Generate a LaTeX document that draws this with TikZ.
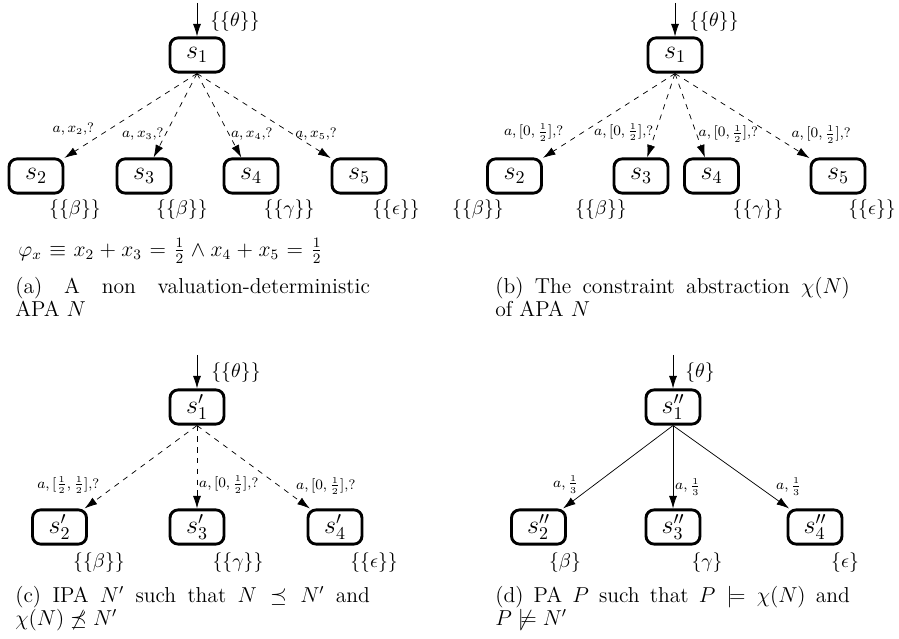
\documentclass[tikz,border=0pt]{standalone}
\usepackage{amsmath}
\usepackage{amssymb}
\usetikzlibrary{positioning, arrows.meta}

\begin{document}
\begin{tikzpicture}[
        x=0.5556pt, y=-0.5556pt, % one unit = one pixel of the figure
        stbox/.style={rectangle, rounded corners=4.5pt, draw=black, ultra thick, minimum width=30pt, minimum height=19pt, inner sep=1pt, font=\Large},
        prop/.style={font=\fontsize{11}{13}\selectfont, inner sep=0pt},
        lab/.style={font=\fontsize{7.6}{9}\selectfont, inner sep=1pt},
        may/.style={dashed, -{Latex[length=7pt, width=4.5pt]}},
        must/.style={-{Latex[length=7pt, width=4.5pt]}},
        captxt/.style={text width=197pt, align=justify, inner sep=0pt, anchor=north west, font=\fontsize{12}{12.8}\selectfont}
    ]
    \useasboundingbox (0,0) rectangle (899,639);

    % (a) APA N
    \node[stbox] (a1) at (197,55) {$s_1$};
    \node[stbox] (a2) at (36,176) {$s_2$};
    \node[stbox] (a3) at (144,176) {$s_3$};
    \node[stbox] (a4) at (251,176) {$s_4$};
    \node[stbox] (a5) at (359,176) {$s_5$};
    \coordinate (a0) at (197,3);
    \draw[must] (a0) -- (a1);
    \node[prop] (at) at (235,22) {$\{\{\theta\}\}$};
    \draw[may] (a1.south) -- node[lab, pos=0.76, anchor=south east] {$a, x_2$,?} (a2);
    \draw[may] (a1.south) -- node[lab, pos=0.72, anchor=east] {$a, x_3$,?} (a3);
    \draw[may] (a1.south) -- node[lab, pos=0.72, anchor=west] {$a, x_4$,?} (a4);
    \draw[may] (a1.south) -- node[lab, pos=0.72, anchor=west] {$a, x_5$,?} (a5);
    \node[prop] (ap2) at (75,210) {$\{\{\beta\}\}$};
    \node[prop] (ap3) at (182,210) {$\{\{\beta\}\}$};
    \node[prop] (ap4) at (289,210) {$\{\{\gamma\}\}$};
    \node[prop] (ap5) at (396,210) {$\{\{\epsilon\}\}$};
    \node[prop, font=\fontsize{12}{14}\selectfont] (phi) at (170.5,251) {\hbox to 169pt{$\varphi_x \equiv x_2 + x_3 = \frac{1}{2} \wedge x_4 + x_5 = \frac{1}{2}$}};
    \node[captxt] (acap) at (15,276.5) {(a) A non valuation-deterministic\linebreak APA $N$};

    % (b) constraint abstraction
    \node[stbox] (b1) at (675,55) {$s_1$};
    \node[stbox] (b2) at (514.5,176) {$s_2$};
    \node[stbox] (b3) at (641,176) {$s_3$};
    \node[stbox] (b4) at (711.5,176) {$s_4$};
    \node[stbox] (b5) at (838,176) {$s_5$};
    \coordinate (b0) at (675,3);
    \draw[must] (b0) -- (b1);
    \node[prop] (bt) at (714,22) {$\{\{\theta\}\}$};
    \draw[may] (b1.south) -- node[lab, pos=0.83, anchor=south east] {$a, [0, \frac{1}{2}]$,?} (b2);
    \draw[may] (b1.south) -- node[lab, pos=0.70, anchor=east] {$a, [0, \frac{1}{2}]$,?} (b3);
    \draw[may] (b1.south) -- node[lab, pos=0.72, anchor=west] {$a, [0, \frac{1}{2}]$,?} (b4);
    \draw[may] (b1.south) -- node[lab, pos=0.85, anchor=south west] {$a, [0, \frac{1}{2}]$,?} (b5);
    \node[prop] (bp2) at (478,210) {$\{\{\beta\}\}$};
    \node[prop] (bp3) at (601,210) {$\{\{\beta\}\}$};
    \node[prop] (bp4) at (758,210) {$\{\{\gamma\}\}$};
    \node[prop] (bp5) at (872,210) {$\{\{\epsilon\}\}$};
    \node[captxt] (bcap) at (495,276.5) {(b) The constraint abstraction $\chi(N)$\linebreak of APA $N$};

    % (c) IPA N'
    \node[stbox] (c1) at (197,407) {$s'_1$};
    \node[stbox] (c2) at (59.5,527) {$s'_2$};
    \node[stbox] (c3) at (197,527) {$s'_3$};
    \node[stbox] (c4) at (335,527) {$s'_4$};
    \coordinate (c0) at (197,355);
    \draw[must] (c0) -- (c1);
    \node[prop] (ct) at (236,373) {$\{\{\theta\}\}$};
    \draw[may] (c1.south) -- node[lab, pos=0.85, anchor=south east] {$a, [\frac{1}{2}, \frac{1}{2}]$,?} (c2);
    \draw[may] (c1.south) -- node[lab, pos=0.71, anchor=west] {$a, [0, \frac{1}{2}]$,?} (c3);
    \draw[may] (c1.south) -- node[lab, pos=0.86, anchor=south west] {$a, [0, \frac{1}{2}]$,?} (c4);
    \node[prop] (cp2) at (99,563) {$\{\{\beta\}\}$};
    \node[prop] (cp3) at (238,563) {$\{\{\gamma\}\}$};
    \node[prop] (cp4) at (374,563) {$\{\{\epsilon\}\}$};
    \node[captxt] (ccap) at (15,585.5) {(c) IPA $N'$ such that $N \preceq N'$ and\linebreak $\chi(N) \not\preceq N'$};

    % (d) PA P
    \node[stbox] (d1) at (673,407) {$s''_1$};
    \node[stbox] (d2) at (538.5,527) {$s''_2$};
    \node[stbox] (d3) at (673,527) {$s''_3$};
    \node[stbox] (d4) at (815,527) {$s''_4$};
    \coordinate (d0) at (673,355);
    \draw[must] (d0) -- (d1);
    \node[prop] (dt) at (700,373) {$\{\theta\}$};
    \draw[must] (d1.south) -- node[lab, pos=0.84, anchor=south east] {$a, \frac{1}{3}$} (d2);
    \draw[must] (d1.south) -- node[lab, pos=0.74, anchor=west] {$a, \frac{1}{3}$} (d3);
    \draw[must] (d1.south) -- node[lab, pos=0.87, anchor=south west] {$a, \frac{1}{3}$} (d4);
    \node[prop] (dp2) at (565,563) {$\{\beta\}$};
    \node[prop] (dp3) at (707,563) {$\{\gamma\}$};
    \node[prop] (dp4) at (845,563) {$\{\epsilon\}$};
    \node[captxt] (dcap) at (495,585.5) {(d) PA $P$ such that $P \models \chi(N)$ and\linebreak $P \not\models N'$};
\end{tikzpicture}
\end{document}
